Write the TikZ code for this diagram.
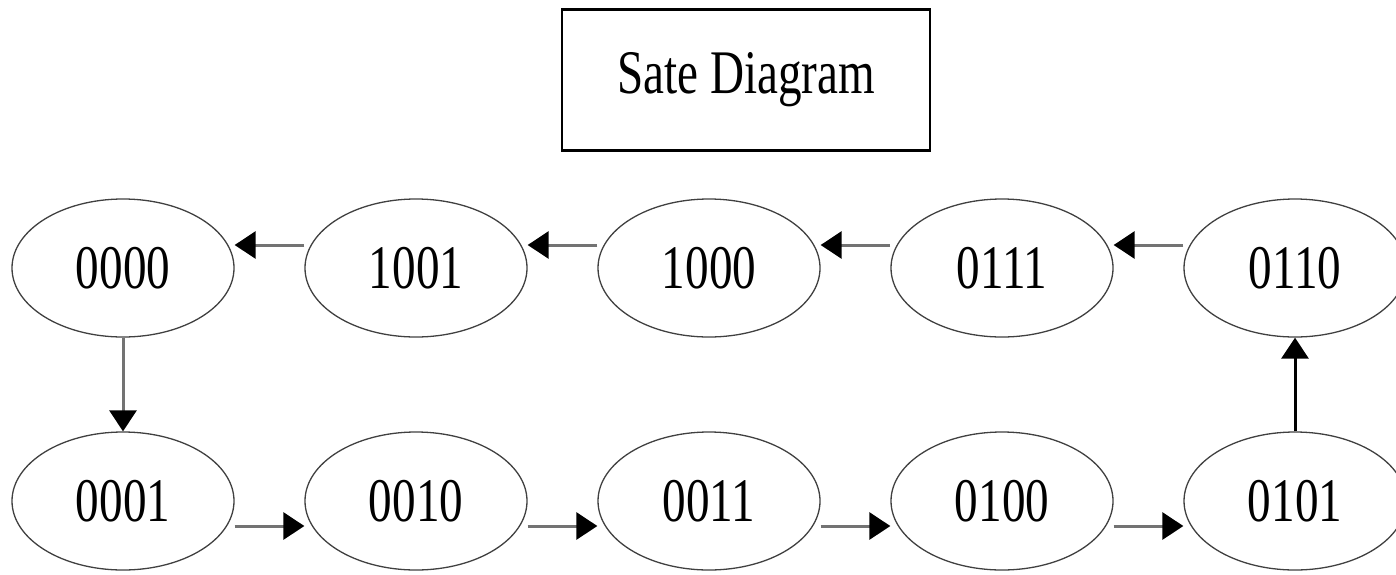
\documentclass[tikz,border=0pt]{standalone}
\usepackage{fontspec}
\usetikzlibrary{shapes.geometric, arrows.meta}
\newfontfamily\statefont[FakeStretch=0.76]{Liberation Serif}

\begin{document}
\begin{tikzpicture}[x=1pt, y=-1pt,
    state/.style={ellipse, draw=black!75, line width=1.3pt,
      minimum width=222pt, minimum height=138pt, inner sep=0pt,
      font=\statefont\fontsize{62}{62}\selectfont},
    trans/.style={draw=black!55, line width=3pt,
      -{Triangle[length=21pt, width=27pt, color=black, fill=black]}}]
          \useasboundingbox (0,0) rectangle (1396,574);

          \node[draw, line width=2.5pt, minimum width=368pt, minimum height=141pt,
                font=\statefont\fontsize{62}{62}\selectfont] (title) at (746, 80) {Sate Diagram};

          \node[state] (s0000) at (123, 268) {0000};
          \node[state] (s1001) at (416, 268) {1001};
          \node[state] (s1000) at (709, 268) {1000};
          \node[state] (s0111) at (1002, 268) {0111};
          \node[state] (s0110) at (1295, 268) {0110};

          \node[state] (s0001) at (123, 501) {0001};
          \node[state] (s0010) at (416, 501) {0010};
          \node[state] (s0011) at (709, 501) {0011};
          \node[state] (s0100) at (1002, 501) {0100};
          \node[state] (s0101) at (1295, 501) {0101};

          \draw[trans] (s0000.south) -- (s0001.north);

          \draw[trans] ([yshift=-25pt]s0001.east) -- ([yshift=-25pt]s0010.west);
          \draw[trans] ([yshift=-25pt]s0010.east) -- ([yshift=-25pt]s0011.west);
          \draw[trans] ([yshift=-25pt]s0011.east) -- ([yshift=-25pt]s0100.west);
          \draw[trans] ([yshift=-25pt]s0100.east) -- ([yshift=-25pt]s0101.west);

          \draw[trans, draw=black] (s0101.north) -- (s0110.south);

          \draw[trans] ([yshift=23pt]s0110.west) -- ([yshift=23pt]s0111.east);
          \draw[trans] ([yshift=23pt]s0111.west) -- ([yshift=23pt]s1000.east);
          \draw[trans] ([yshift=23pt]s1000.west) -- ([yshift=23pt]s1001.east);
          \draw[trans] ([yshift=23pt]s1001.west) -- ([yshift=23pt]s0000.east);

        \end{tikzpicture}
\end{document}
